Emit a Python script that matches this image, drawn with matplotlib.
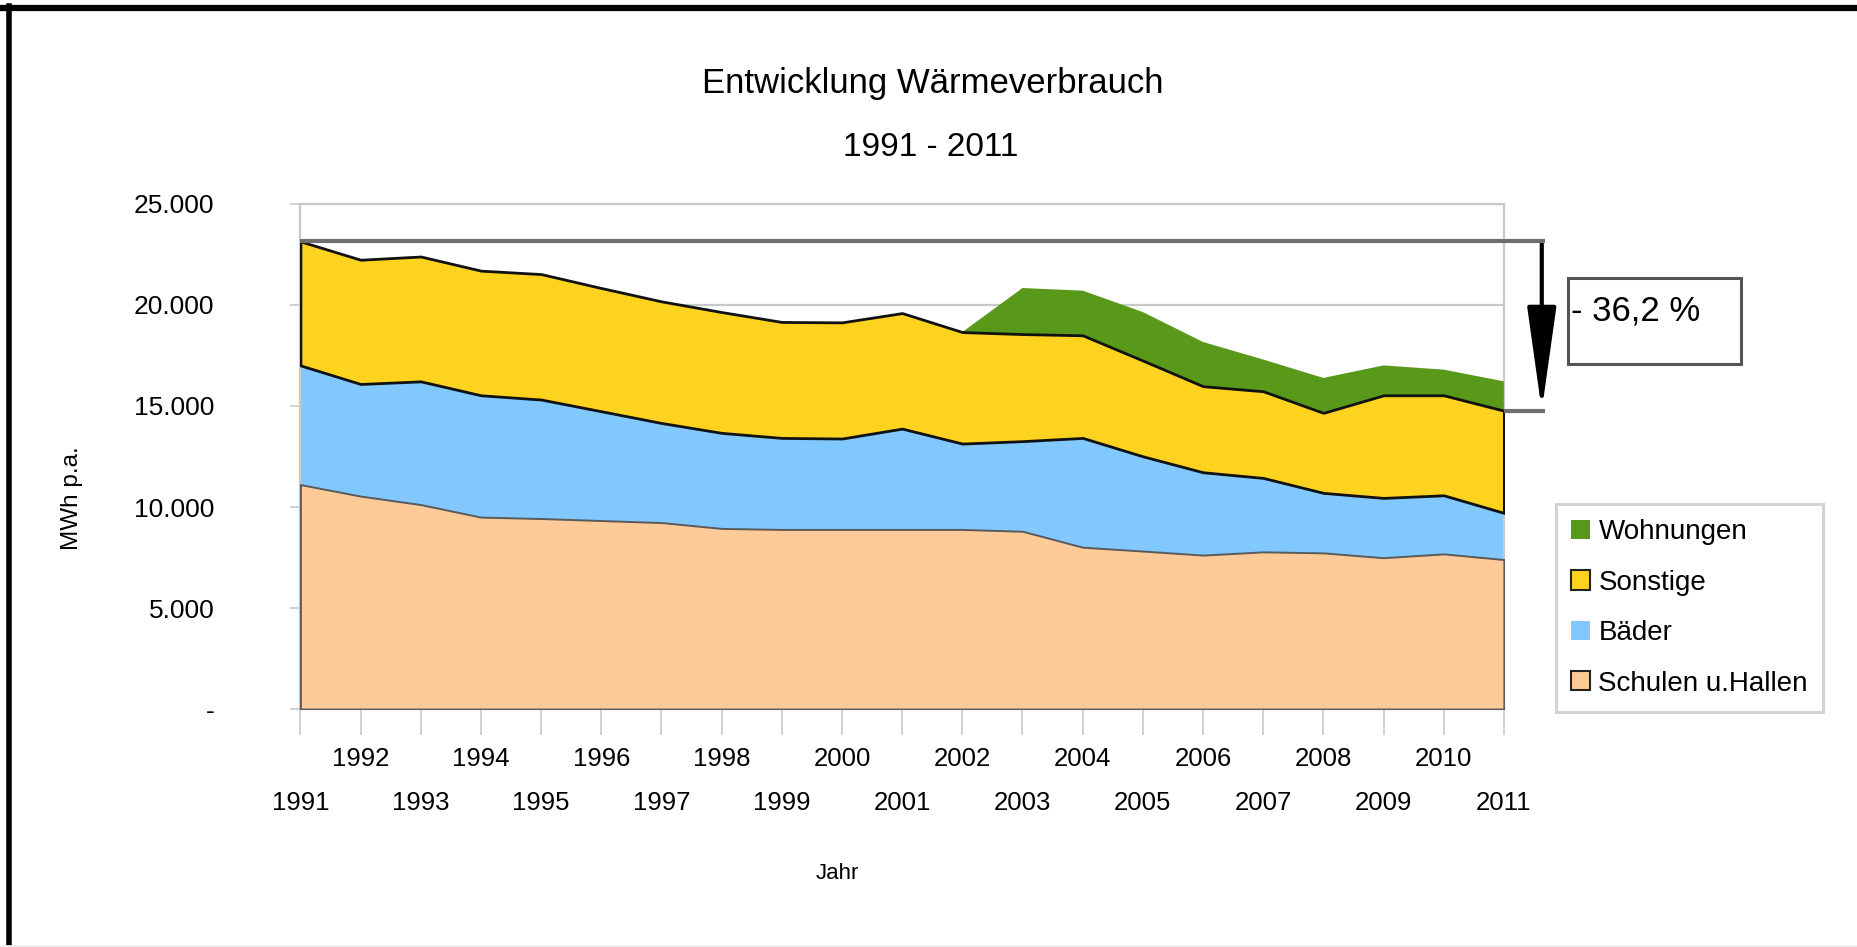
import numpy as np
import matplotlib.pyplot as plt
from matplotlib.lines import Line2D
from matplotlib.patches import Rectangle, Patch

years = np.arange(1991, 2012)
schulen = [11110, 10540, 10120, 9500, 9430, 9330, 9230, 8940, 8890, 8890, 8890,
           8890, 8800, 8010, 7820, 7620, 7780, 7730, 7490, 7680, 7400]
baeder = [5900, 5550, 6100, 6030, 5890, 5410, 4930, 4730, 4530, 4500, 4990,
          4250, 4460, 5410, 4690, 4100, 3660, 2970, 2960, 2900, 2310]
sonstige = [6140, 6150, 6180, 6170, 6210, 6100, 6020, 5980, 5740, 5750, 5720,
            5520, 5300, 5080, 4740, 4260, 4290, 3960, 5080, 4950, 5060]
wohnungen = [0, 0, 0, 0, 0, 0, 0, 0, 0, 0, 0,
             0, 2280, 2210, 2400, 2190, 1570, 1730, 1480, 1270, 1450]
series_names = ['Wohnungen', 'Sonstige', 'Bäder', 'Schulen u.Hallen']
yticks = [0, 5000, 10000, 15000, 20000, 25000]
ytick_labels = ['-', '5.000', '10.000', '15.000', '20.000', '25.000']
reduction_label = '- 36,2 %'

FONT = ['Liberation Sans', 'DejaVu Sans']
plt.rcParams['font.family'] = FONT

c_schulen = '#FECB98'
c_baeder = '#80C8FE'
c_sonstige = '#FED31F'
c_wohnungen = '#58991A'
grid_c = '#C8C8C8'

s1 = np.array(schulen)
s2 = s1 + np.array(baeder)
s3 = s2 + np.array(sonstige)
s4 = s3 + np.array(wohnungen)

fig = plt.figure(figsize=(18.58, 9.47), dpi=100)
ax = fig.add_axes([0.1617, 0.2513, 0.6477, 0.5333])

ax.fill_between(years, s1, s2, color=c_baeder, lw=0, zorder=2)
ax.fill_between(years, 0, s1, facecolor=c_schulen, edgecolor='#5a5a5a', lw=1.4, zorder=3)
ax.fill_between(years, s3, s4, where=years >= 2002, facecolor=c_wohnungen, lw=0, zorder=3)
ax.fill_between(years, s2, s3, facecolor=c_sonstige, edgecolor='#111111', lw=2.0, zorder=4)

ax.set_xlim(1991, 2011)
ax.set_ylim(0, 25000)
ax.set_yticks(yticks)
ax.set_yticklabels(ytick_labels)
ax.yaxis.grid(True, color=grid_c, lw=1.6)
ax.set_axisbelow(True)
for sp in ax.spines.values():
    sp.set_color(grid_c)
    sp.set_linewidth(1.6)
ax.tick_params(axis='y', length=7, width=1.2, color=grid_c, pad=55, labelsize=19)

ax.set_xticks(years[1::2])
ax.set_xticks(years[::2], minor=True)
ax.set_xticklabels([str(y) for y in years[1::2]])
ax.set_xticklabels([str(y) for y in years[::2]], minor=True)
ax.tick_params(axis='x', which='major', length=19, width=1.2, color=grid_c, pad=8, labelsize=18.5)
ax.tick_params(axis='x', which='minor', length=19, width=1.2, color=grid_c, pad=40, labelsize=18.5)

ax.set_ylabel('MWh p.a.', fontsize=17.5)
ax.yaxis.set_label_coords(-0.181, 0.418)
ax.text(0.446, -0.325, 'Jahr', transform=ax.transAxes, ha='center', va='center', fontsize=16)

# reduction marker
top = s3[0]
end = s3[-1]
xa = 2011.63
ax.plot([1991, xa + 0.05], [top, top], color='#6E6E6E', lw=3, zorder=6, clip_on=False, solid_capstyle='butt')
ax.plot([2011, xa + 0.05], [end, end], color='#6E6E6E', lw=3, zorder=6, clip_on=False, solid_capstyle='butt')
ax.annotate('', xy=(xa, end), xytext=(xa, top), annotation_clip=False,
            arrowprops=dict(arrowstyle='-|>,head_length=6.4,head_width=0.9', lw=3,
                            color='black', shrinkA=0, shrinkB=0, mutation_scale=10))

fig.add_artist(Rectangle((1568 / 1858, 1 - 364 / 947), 173 / 1858, 86 / 947, transform=fig.transFigure,
                         fill=False, edgecolor='#555555', lw=2.2))
fig.text(1571 / 1858, 1 - 311 / 947, reduction_label, ha='left', va='center', fontsize=25)

fig.text(933 / 1858, 1 - 84 / 947, 'Entwicklung Wärmeverbrauch', ha='center', va='center', fontsize=25)
fig.text(931 / 1858, 1 - 147 / 947, '1991 - 2011', ha='center', va='center', fontsize=24)

handles = [Patch(facecolor=c_wohnungen, edgecolor='none'),
           Patch(facecolor=c_sonstige, edgecolor='#222222', lw=1.5),
           Patch(facecolor=c_baeder, edgecolor='none'),
           Patch(facecolor=c_schulen, edgecolor='#222222', lw=1.5)]
leg = fig.legend(handles, series_names, loc='upper left', bbox_to_anchor=(1556 / 1858, 1 - 504 / 947),
                 fontsize=20, frameon=True, fancybox=False, handlelength=0.68, handleheight=0.68,
                 handletextpad=0.3, labelspacing=0.88, borderpad=0.55, borderaxespad=0)
leg.get_frame().set_edgecolor(grid_c)
leg.get_frame().set_linewidth(2.2)

# outer frame of the picture
fig.add_artist(Line2D([0, 1], [1 - 8 / 947, 1 - 8 / 947], transform=fig.transFigure, color='black', lw=4.5))
fig.add_artist(Line2D([8.5 / 1858, 8.5 / 1858], [0, 1 - 6 / 947], transform=fig.transFigure, color='black', lw=4))
fig.add_artist(Line2D([0, 1], [1.5 / 947, 1.5 / 947], transform=fig.transFigure, color='#EEEEEE', lw=2))

fig.savefig('out.png', dpi=100)
